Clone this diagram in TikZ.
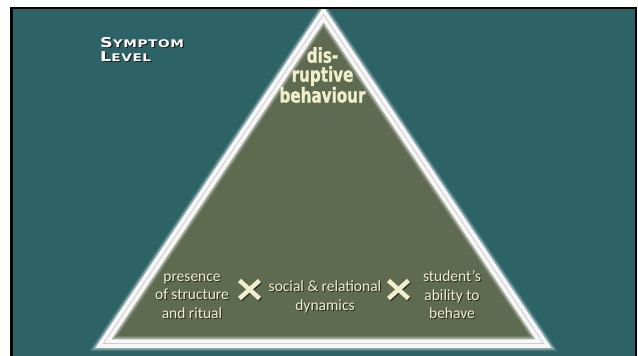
\documentclass[tikz,border=0pt]{standalone}
\usepackage{fontspec}
\setmainfont{Carlito}
\newfontfamily\headfont[FakeStretch=0.74,FakeBold=1.2]{DejaVu Sans}
\newfontfamily\levelfont[FakeStretch=1.3,LetterSpace=6]{DejaVu Sans}

\definecolor{boardteal}{RGB}{45,99,103}
\definecolor{pyrolive}{RGB}{94,107,80}
\definecolor{chalk}{RGB}{240,238,204}

\tikzset{
    layer text/.style={text=chalk, align=center, inner sep=0pt,
        font=\fontsize{15.5}{18.5}\selectfont},
    layer shadow/.style={layer text, text=black, opacity=.6},
    times mark/.style={line width=4.5pt, line cap=butt},
}

\begin{document}
\begin{tikzpicture}[x=1pt,y=-1pt]
    \useasboundingbox (0,0) rectangle (638,356);
    % board
    \draw[line width=2.6pt, fill=boardteal] (11.2,8) rectangle (636,372);
    % pyramid corners
    \coordinate (top) at (323.5,14.5);
    \coordinate (bl) at (103.5,343.5);
    \coordinate (br) at (543.5,343.5);
    \begin{scope}
        \clip (12.5,9.3) rectangle (634.7,372);
        \fill[pyrolive] (top) -- (br) -- (bl) -- cycle;
        \draw[white, opacity=.15, line width=15pt, line join=miter] (top) -- (br) -- (bl) -- cycle;
        \draw[white, opacity=.35, line width=12pt, line join=miter] (top) -- (br) -- (bl) -- cycle;
        \draw[white!94!gray, line width=8.5pt, line join=miter] (top) -- (br) -- (bl) -- cycle;
        \draw[gray!40, line width=.8pt, line join=miter] (top) -- (br) -- (bl) -- cycle;
    \end{scope}

    % symptom label
    \node[anchor=north west, inner sep=0pt, align=left, text=black!85,
        font=\levelfont\bfseries\fontsize{13.5}{14}\selectfont] (sym-sh) at (101.3,38.3)
        {S{\fontsize{10.5}{14}\selectfont YMPTOM}\\L{\fontsize{10.5}{14}\selectfont EVEL}};
    \node[anchor=north west, inner sep=0pt, align=left, text=white,
        font=\levelfont\bfseries\fontsize{13.5}{14}\selectfont] (sym) at (100,37)
        {S{\fontsize{10.5}{14}\selectfont YMPTOM}\\L{\fontsize{10.5}{14}\selectfont EVEL}};

    % apex text
    \node[text=chalk, align=center, inner sep=0pt,
        font=\headfont\bfseries\fontsize{20.5}{19}\selectfont] (disrupt) at (322.5,75)
        {dis-\\ruptive\\behaviour};

    % base factors
    \node[layer shadow] at (193,297) {presence\\of structure\\and ritual};
    \node[layer text] (structure) at (192,296) {presence\\of structure\\and ritual};
    \node[layer shadow] at (326,298) {social \& relational\\dynamics};
    \node[layer text] (dynamics) at (325,297) {social \& relational\\dynamics};
    \node[layer shadow] at (453,296) {student’s\\ability to\\behave};
    \node[layer text] (ability) at (452,295) {student’s\\ability to\\behave};

    % multiplication marks
    \coordinate (times1) at (249.5,289.5);
    \coordinate (times2) at (398.5,289.5);
    \foreach \m in {times1,times2} {
        \draw[times mark, black, opacity=.6] (\m) ++(-9,-8) -- ++(20,18) (\m) ++(-9,10) -- ++(20,-18);
        \draw[times mark, chalk] (\m) ++(-10,-9) -- ++(20,18) (\m) ++(-10,9) -- ++(20,-18);
    }
\end{tikzpicture}
\end{document}
